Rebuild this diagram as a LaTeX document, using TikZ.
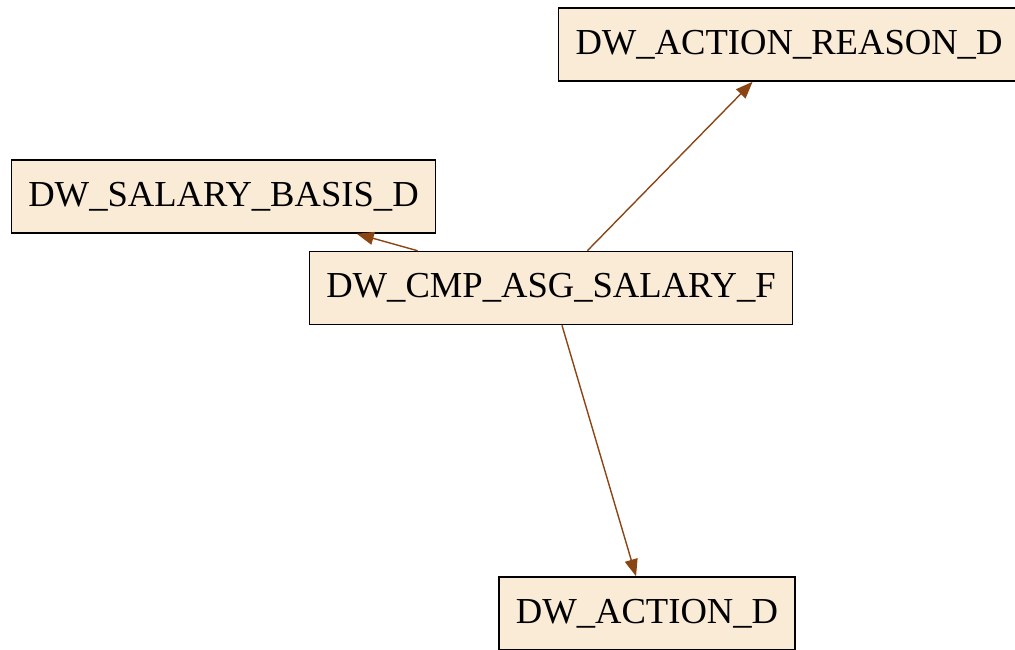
\documentclass[tikz,border=0pt]{standalone}
\usepackage{fontspec}
\setmainfont{Liberation Serif}
\usetikzlibrary{arrows.meta}
\definecolor{boxfill}{HTML}{FAEBD7}
\definecolor{edgebrown}{HTML}{8B4513}
\begin{document}
\begin{tikzpicture}[x=1pt, y=-1pt, main/.style = {draw, fill=boxfill, line width=1.5pt, minimum height=73pt, inner xsep=17pt, font=\fontsize{36.6}{44}\selectfont}, dep/.style = {draw=edgebrown, line width=1.4pt, -{Triangle[length=17pt, width=13pt]}}]
            \useasboundingbox (0,0) rectangle (1015,649);
            \node[main] (1) at (551,288)   {DW\_CMP\_ASG\_SALARY\_F};
            \node[main] (2) at (789,44.5)  {DW\_ACTION\_REASON\_D};
            \node[main] (3) at (223.5,196.5) {DW\_SALARY\_BASIS\_D};
            \node[main] (4) at (647,613.5) {DW\_ACTION\_D};

            \draw[dep] (1) -- (2);
            \draw[dep] (1) -- (3);
            \draw[dep] (1) -- (4);
        \end{tikzpicture}
\end{document}
